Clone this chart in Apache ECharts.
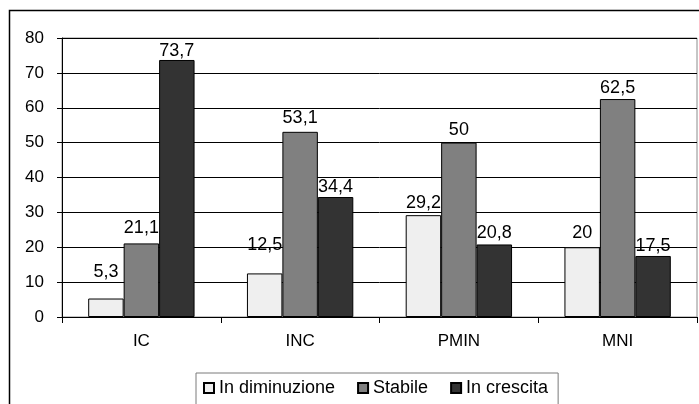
<!DOCTYPE html>
<html>
<head>
<meta charset="utf-8">
<script src="https://cdn.jsdelivr.net/npm/echarts@6/dist/echarts.min.js"></script>
<style>
  html, body { margin: 0; padding: 0; background: #fff; }
  #chart { width: 699px; height: 404px; }
</style>
</head>
<body>
<div id="chart"></div>
<script>
// Categories and values for the three answer groups
const categories = ['IC', 'INC', 'PMIN', 'MNI'];
const seriesNames = ['In diminuzione', 'Stabile', 'In crescita'];
const inDiminuzione = [5.3, 12.5, 29.2, 20];
const stabile = [21.1, 53.1, 50, 62.5];
const inCrescita = [73.7, 34.4, 20.8, 17.5];
const yMin = 0, yMax = 80, yStep = 10;

// Gap (px) between each value label and the top of its bar
const labelGaps = [
  [17, 19, 3, 5],
  [6, 5, 4, 2],
  [0, 1, 2, 1]
];

const FONT = "'Liberation Sans', Arial, Helvetica, sans-serif";
const fills = ['#efefef', '#808080', '#333333'];
const seriesData = [inDiminuzione, stabile, inCrescita];

// Decimal comma for the value labels
const fmt = v => String(v).replace('.', ',');

const chart = echarts.init(document.getElementById('chart'), null, { renderer: 'canvas' });

chart.setOption({
  backgroundColor: '#ffffff',
  animation: false,
  textStyle: { fontFamily: FONT, color: '#000' },
  grid: {
    left: 62, right: 2, top: 38, height: 279,
    show: true, borderColor: '#8c8c8c', borderWidth: 1, backgroundColor: 'transparent'
  },
  graphic: [{
    type: 'rect', silent: true, z: -1,
    shape: { x: 9.5, y: 10.5, width: 720, height: 420 },
    style: { fill: 'none', stroke: '#000', lineWidth: 1.5 }
  }],
  legend: {
    data: seriesNames,
    left: 196, top: 373,
    padding: [6, 10, 14, 7],
    borderColor: '#7a7a7a', borderWidth: 1, backgroundColor: '#fff',
    icon: 'rect', itemWidth: 10, itemHeight: 10, itemGap: 22,
    textStyle: { fontFamily: FONT, fontSize: 18, color: '#000' }
  },
  xAxis: {
    type: 'category',
    data: categories,
    axisLine: { lineStyle: { color: '#000', width: 1 } },
    axisTick: { show: true, alignWithLabel: false, length: 6, lineStyle: { color: '#000' } },
    axisLabel: { fontFamily: FONT, fontSize: 17, color: '#000', margin: 16 },
    splitLine: { show: false }
  },
  yAxis: {
    type: 'value',
    min: yMin, max: yMax, interval: yStep,
    axisLine: { show: true, lineStyle: { color: '#000', width: 1 } },
    axisTick: { show: true, length: 5, lineStyle: { color: '#000' } },
    axisLabel: { fontFamily: FONT, fontSize: 17, color: '#000', margin: 18 },
    splitLine: { show: true, lineStyle: { color: '#000', width: 1 } }
  },
  series: seriesNames.map((name, i) => ({
    name,
    type: 'bar',
    data: seriesData[i].map((v, j) => ({
      value: v,
      label: { distance: labelGaps[i][j] }
    })),
    barGap: '0%',
    barCategoryGap: '33%',
    itemStyle: { color: fills[i], borderColor: '#000', borderWidth: 1 },
    label: {
      show: true, position: 'top',
      fontFamily: FONT, fontSize: 18, color: '#000',
      formatter: p => fmt(p.value)
    }
  }))
});
</script>
</body>
</html>
